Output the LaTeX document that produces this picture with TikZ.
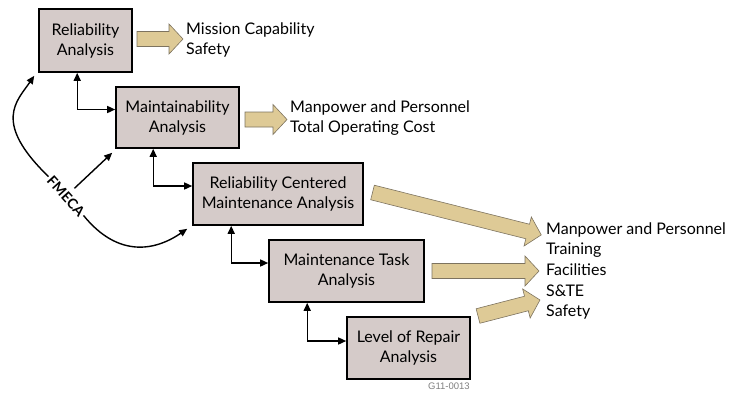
\documentclass[tikz,border=0pt]{standalone}
\usepackage{fontspec}
\setmainfont{Lato}
\newfontfamily\tagfont{Liberation Sans}
\usetikzlibrary{arrows.meta,calc}
\definecolor{boxfill}{RGB}{213,203,201}
\definecolor{tanfill}{RGB}{222,202,150}
\definecolor{tanline}{RGB}{125,115,95}
\tikzset{
  anabox/.style={draw=black, line width=1.6pt, fill=boxfill, align=center, inner sep=0pt,
    font=\fontsize{16}{20}\selectfont},
  link/.style={line width=1.4pt, {Triangle[length=8pt,width=7pt]}-{Triangle[length=8pt,width=7pt]}},
  feed/.style={line width=1.4pt, -{Triangle[length=8pt,width=7pt]}},
  outtext/.style={anchor=west, align=left, inner sep=0pt, font=\fontsize{16}{20.6}\selectfont},
  bigarrow/.style={draw=tanline, line width=0.6pt, fill=tanfill}
}
% tan block arrow: tail x, tail y, angle, length
\newcommand{\tanarrow}[4]{%
  \begin{scope}[shift={(#1,#2)}, rotate=#3]
  \draw[bigarrow] (0,-7.5) -- ({#4-14},-7.5) -- ({#4-14},-15) -- (#4,0) -- ({#4-14},15) -- ({#4-14},7.5) -- (0,7.5) -- cycle;
  \end{scope}}
\begin{document}
\begin{tikzpicture}[x=1pt,y=-1pt]
\useasboundingbox (0,0) rectangle (744,392);
% analysis boxes
\node[anabox, minimum width=93pt, minimum height=63pt] (r1) at (85.5,40.5) {Reliability\\Analysis};
\node[anabox, minimum width=123pt, minimum height=61pt] (r2) at (177.5,117.5) {Maintainability\\Analysis};
\node[anabox, minimum width=170pt, minimum height=62pt] (r3) at (278,194) {Reliability Centered\\Maintenance Analysis};
\node[anabox, minimum width=155pt, minimum height=62pt] (r4) at (346.5,271) {Maintenance Task\\Analysis};
\node[anabox, minimum width=123pt, minimum height=62pt] (r5) at (408.5,348) {Level of Repair\\Analysis};
% links between boxes
\draw[link] ([xshift=-38pt]r2.west |- r1.south) |- ([yshift=8pt]r2.west);
\draw[link] ([xshift=-39pt]r3.west |- r2.south) |- ([yshift=8pt]r3.west);
\draw[link] ([xshift=-37pt]r4.west |- r3.south) |- ([yshift=8pt]r4.west);
\draw[link] ([xshift=-39pt]r5.west |- r4.south) |- ([yshift=7pt]r5.west);
% FMECA
\node[font=\bfseries\fontsize{14}{15}\selectfont, inner sep=2pt, rotate=-48] (fm) at (66,196) {FMECA};
\draw[feed] (fm.west) .. controls (-8,122) and (17,101) .. ([shift={(-4,3)}]r1.south west);
\draw[feed, shorten <=4pt] (fm.north) -- ([shift={(-3,4)}]r2.south west);
\draw[feed] (fm.east) .. controls (118,258) and (155,251) .. ([shift={(-5,3)}]r3.south west);
% block arrows
\tanarrow{137}{39}{0}{46}
\tanarrow{245}{119.5}{0}{42}
\tanarrow{372.5}{192.5}{-14.1}{174}
\tanarrow{432}{271}{0}{107}
\tanarrow{478}{316}{14.5}{64}
% results
\node[outtext] (o1) at (186,40) {Mission Capability\\Safety};
\node[outtext] (o2) at (290,118) {Manpower and Personnel\\Total Operating Cost};
\node[outtext] (o3) at (546,271) {Manpower and Personnel\\Training\\Facilities\\S\&TE\\Safety};
\node[font=\tagfont\fontsize{9.5}{10}\selectfont, text=gray] (tag) at (449,386.5) {G11-0013};
\end{tikzpicture}
\end{document}
